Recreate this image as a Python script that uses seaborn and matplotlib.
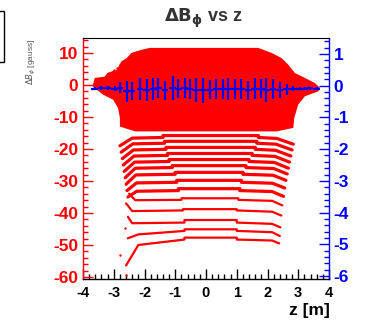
import numpy as np
import pandas as pd
import matplotlib
matplotlib.use("Agg")
import matplotlib.pyplot as plt
import seaborn as sns
from matplotlib.patches import Rectangle
from matplotlib.ticker import MultipleLocator

# ---------------- data ----------------
# outline of the dense (solid) upper red region
blob_z = [-3.68, -3.62, -3.30, -3.20, -2.90, -2.75, -2.58, -2.43, -2.10, -1.83,
          1.70, 2.14, 2.46, 2.68, 2.89, 3.22, 3.54, 3.71, 3.65, 3.22, 3.00,
          2.87, 2.84, 2.30, -2.30, -2.80, -2.80, -2.86, -3.02, -3.35, -3.68]
blob_v = [0.0, 2.2, 2.6, 3.8, 4.8, 7.4, 8.4, 10.0, 11.0, 11.6,
          11.6, 10.0, 8.4, 6.3, 3.75, 2.2, 0.6, -0.9, -2.0, -3.5, -6.1,
          -10.3, -13.4, -14.5, -14.5, -13.0, -10.3, -7.2, -4.6, -3.0, -0.5]

# individual red curves below the dense region
curve_center   = [-15.8, -17.6, -19.5, -21.4, -23.3, -25.2, -27.3, -29.8, -32.4, -35.4, -38.8, -42.2, -45.1, -47.7]
curve_shoulder = [-16.4, -18.2, -20.1, -22.0, -23.9, -25.8, -27.9, -30.4, -33.0, -35.9, -39.2, -43.0, -45.6, -48.3]
left_step_z    = [-1.40, -1.35, -1.30, -1.25, -1.20, -1.10, -1.00, -0.95, -0.90, -0.80, -0.75, -0.70, -0.70, -0.70]
right_step_z   = [1.70, 1.65, 1.60, 1.50, 1.40, 1.30, 1.20, 1.15, 1.10, 1.05, 1.00, 1.00, 1.00, 1.00]
left_knee_z    = [-2.40, -2.38, -2.36, -2.34, -2.32, -2.30, -2.28, -2.26, -2.25, -2.30, -2.40, -2.40, -2.20, -2.20]
left_knee_v    = [-16.6, -18.4, -20.3, -22.2, -24.1, -26.0, -28.1, -30.6, -33.2, -36.0, -39.4, -43.2, -46.7, -50.0]
left_end_z     = [-2.80, -2.76, -2.72, -2.69, -2.66, -2.63, -2.60, -2.57, -2.54, -2.50, -2.60, -2.54, -2.54, -2.60]
left_end_v     = [-19.0, -21.0, -23.0, -25.0, -27.0, -29.0, -31.0, -33.0, -35.0, -34.0, -37.0, -41.2, -47.9, -56.4]
right_knee_z   = [2.30, 2.28, 2.26, 2.24, 2.22, 2.20, 2.18, 2.16, 2.15, 2.15, 2.15, 2.15, 2.15, 2.15]
right_knee_v   = [-16.7, -18.5, -20.4, -22.3, -24.2, -26.1, -28.2, -30.7, -33.3, -36.2, -39.6, -43.4, -46.0, -48.6]
right_end_z    = [2.84, 2.80, 2.76, 2.72, 2.68, 2.64, 2.60, 2.56, 2.52, 2.48, 2.45, 2.42, 2.40, 2.38]
right_end_v    = [-18.5, -20.3, -22.2, -24.1, -26.0, -27.8, -29.8, -32.2, -34.8, -37.6, -40.8, -44.5, -47.2, -49.5]
curve_group    = ["thick"] * 9 + ["thin"] * 5

# stray red points
stray_z = [-3.20, -3.10, -3.00, -2.90, -2.80, -2.70, -2.62, -2.80, -2.62, -2.60]
stray_v = [3.2, 3.9, 4.6, 5.4, 6.1, 6.9, 7.6, -53.0, -44.7, -59.5]

# blue profile (right axis)
prof_z = [-3.62, -3.40, -3.19, -2.97, -2.80, -2.58, -2.42, -2.15, -1.93, -1.71, -1.55, -1.33,
          -1.08, -0.90, -0.69, -0.53, -0.31, -0.10, 0.12, 0.34, 0.55, 0.72, 0.93, 1.15,
          1.37, 1.58, 1.80, 1.96, 2.18, 2.40, 2.62, 2.84, 3.06, 3.22, 3.38, 3.60]
prof_mean = [-0.09, -0.08, -0.08, -0.09, -0.06, -0.17, -0.16, -0.11, -0.14, -0.11, -0.08, -0.15,
             -0.07, -0.10, -0.08, -0.11, -0.14, -0.15, -0.13, -0.11, -0.11, -0.11, -0.11, -0.11,
             -0.14, -0.10, -0.10, -0.14, -0.11, -0.14, -0.11, -0.09, -0.09, -0.09, -0.08, -0.09]
prof_err = [0.04, 0.06, 0.06, 0.07, 0.18, 0.33, 0.29, 0.34, 0.34, 0.34, 0.32, 0.30,
            0.38, 0.30, 0.32, 0.32, 0.37, 0.38, 0.30, 0.32, 0.32, 0.34, 0.32, 0.32,
            0.30, 0.33, 0.30, 0.37, 0.32, 0.26, 0.18, 0.07, 0.06, 0.05, 0.05, 0.04]
prof_halfwidth = 0.11

left_ticks = [10, 0, -10, -20, -30, -40, -50, -60]
right_ticks = [1, 0, -1, -2, -3, -4, -5, -6]
x_ticks = [-4, -3, -2, -1, 0, 1, 2, 3, 4]

# ---------------- build tables ----------------
rows = []
for i in range(len(curve_center)):
    pts = [(left_end_z[i], left_end_v[i]), (left_knee_z[i], left_knee_v[i]),
           (left_step_z[i], curve_shoulder[i]), (left_step_z[i], curve_center[i]),
           (right_step_z[i], curve_center[i]), (right_step_z[i], curve_shoulder[i]),
           (right_knee_z[i], right_knee_v[i]), (right_end_z[i], right_end_v[i])]
    for k, (z, v) in enumerate(pts):
        rows.append({"curve": i, "group": curve_group[i], "order": k, "z": z, "v": v})
curves = pd.DataFrame(rows)

# ---------------- figure ----------------
sns.set_theme(style="white")
plt.rcParams["font.family"] = ["Liberation Sans", "DejaVu Sans"]
plt.rcParams["axes.unicode_minus"] = False

fig = plt.figure(figsize=(3.65, 3.23), dpi=100)
ax = fig.add_axes([83 / 365, 1 - 279 / 323, 246 / 365, 241 / 323])
ax.set_facecolor("white")
RED = "#ff0000"
BLUE = "#0000ff"

ax.fill(blob_z, blob_v, color=RED, lw=0)
sns.lineplot(data=curves[curves.group == "thick"], x="z", y="v", units="curve", estimator=None,
             sort=False, color=RED, lw=2.3, ax=ax, legend=False)
sns.lineplot(data=curves[curves.group == "thin"], x="z", y="v", units="curve", estimator=None,
             sort=False, color=RED, lw=1.6, ax=ax, legend=False)
sns.scatterplot(x=stray_z, y=stray_v, color=RED, s=3, linewidth=0, ax=ax, legend=False)

ax.set_xlim(-4, 4)
ax.set_ylim(-60.63, 14.69)
ax.set_xticks(x_ticks)
ax.set_yticks(left_ticks)
ax.xaxis.set_minor_locator(MultipleLocator(0.2))
ax.yaxis.set_minor_locator(MultipleLocator(2))
ax.set_xlabel("")
ax.set_ylabel("")

ax2 = ax.twinx()
ax2.errorbar(prof_z, prof_mean, yerr=prof_err, xerr=prof_halfwidth, fmt="none",
             ecolor=BLUE, elinewidth=1.6, capsize=0)
ax2.set_ylim(-6.095, 1.505)
ax2.set_yticks(right_ticks)
ax2.yaxis.set_minor_locator(MultipleLocator(0.2))

for s in ax.spines.values():
    s.set_visible(False)
for s in ax2.spines.values():
    s.set_visible(True)
    s.set_linewidth(1.0)
ax2.spines["left"].set_color(RED)
ax2.spines["right"].set_color(BLUE)
ax2.spines["bottom"].set_color("black")
ax2.spines["top"].set_color("black")
ax2.spines["top"].set_linewidth(0.8)

fs_y = 12.5
fs_x = 10.5
ax.tick_params(axis="y", which="major", direction="in", length=7, width=1, colors=RED,
               labelsize=fs_y, pad=3.5, left=True, right=False)
ax.tick_params(axis="y", which="minor", direction="in", length=3.5, width=1, colors=RED, left=True)
ax.tick_params(axis="x", which="major", direction="in", length=7, width=1, colors="black",
               labelsize=fs_x, pad=5, bottom=True, top=False)
ax.tick_params(axis="x", which="minor", direction="in", length=3.5, width=1, colors="black", bottom=True, top=False)
ax2.tick_params(axis="y", which="major", direction="in", length=7, width=1, colors=BLUE,
                labelsize=fs_y, pad=3.5, right=True, left=False)
ax2.tick_params(axis="y", which="minor", direction="in", length=3.5, width=1, colors=BLUE, right=True)
for lab in ax.get_xticklabels() + ax.get_yticklabels() + ax2.get_yticklabels():
    lab.set_fontweight("bold")

fig.text(203 / 365, 1 - 18 / 323, r"$\mathbf{\Delta B_{\phi}}$ vs z", ha="center", va="center",
         fontsize=13, fontweight="bold", color="#333333")
fig.text(330 / 365, 1 - 310 / 323, "z [m]", ha="right", va="center", fontsize=12.5,
         fontweight="bold", color="black")
fig.text(31 / 365, 1 - 62 / 323, r"$\Delta B_{\phi}$ [gauss]", ha="center", va="center",
         rotation=90, fontsize=6, color="#555555")
fig.add_artist(Rectangle((-10 / 365, 1 - 62 / 323), 14 / 365, 51 / 323, transform=fig.transFigure,
                         fill=False, edgecolor="black", lw=1.0))

fig.savefig("out.png", dpi=100)
